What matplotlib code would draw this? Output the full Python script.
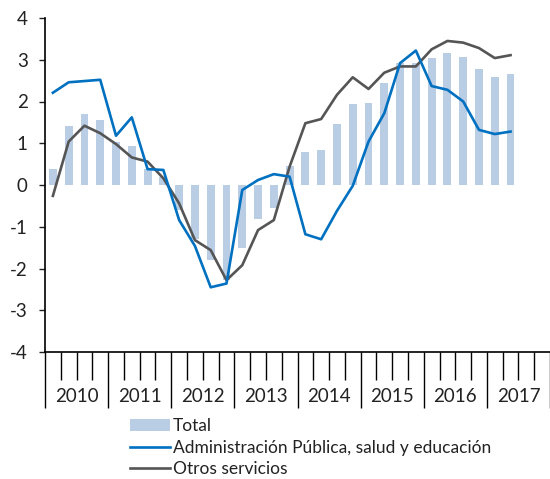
import matplotlib.pyplot as plt
import matplotlib.transforms as mtransforms
import numpy as np

plt.rcParams['font.family'] = ['Lato', 'DejaVu Sans']
plt.rcParams['axes.unicode_minus'] = False

### quarterly data 2010Q1 - 2017Q2
years = ['2010', '2011', '2012', '2013', '2014', '2015', '2016', '2017']
total = [0.38, 1.41, 1.69, 1.56, 1.04, 0.94, 0.38, 0.18,
         -0.6, -1.3, -1.8, -2.28, -1.5, -0.82, -0.56, 0.46,
         0.8, 0.84, 1.46, 1.94, 1.97, 2.45, 2.92, 2.93,
         3.03, 3.17, 3.07, 2.79, 2.59, 2.65]
admin = [2.21, 2.46, 2.49, 2.52, 1.18, 1.62, 0.38, 0.36,
         -0.84, -1.46, -2.45, -2.36, -0.12, 0.12, 0.26, 0.2,
         -1.18, -1.3, -0.62, -0.02, 1.04, 1.72, 2.92, 3.22,
         2.37, 2.28, 2.0, 1.32, 1.22, 1.28]
otros = [-0.26, 1.04, 1.42, 1.24, 0.98, 0.66, 0.56, 0.16,
         -0.44, -1.32, -1.56, -2.28, -1.92, -1.08, -0.84, 0.44,
         1.48, 1.58, 2.16, 2.58, 2.3, 2.69, 2.84, 2.84,
         3.25, 3.45, 3.41, 3.28, 3.04, 3.11]

x = np.arange(len(total))

fig = plt.figure(figsize=(5.5, 4.79), dpi=100)
ax = fig.add_axes([45 / 550, 1 - 352 / 479, 505 / 550, (352 - 18) / 479])

b = ax.bar(x, total, width=0.5, color='#B9CDE5', label='Total', zorder=1)
l1, = ax.plot(x, admin, color='#0070C0', lw=1.9, label='Administración Pública, salud y educación', zorder=3)
l2, = ax.plot(x, otros, color='#555555', lw=1.9, label='Otros servicios', zorder=2)

ax.set_ylim(-4, 4)
ax.set_xlim(-0.5, 31.26)
ax.set_yticks(range(-4, 5))
ax.tick_params(axis='y', direction='out', length=4.5, width=1, pad=8, labelsize=13.5, colors='#222222')

### quarter boundaries (minor) and year boundaries (major)
ax.set_xticks(np.arange(-0.5, 32, 4))
ax.set_xticks(np.arange(-0.5, 32, 1), minor=True)
ax.tick_params(axis='x', which='major', direction='out', length=40, width=1, labelbottom=False)
ax.tick_params(axis='x', which='minor', direction='out', length=20, width=1)

trans = mtransforms.blended_transform_factory(ax.transData, fig.transFigure)
for i, yr in enumerate(years):
    ax.text(i * 4 + 1.5, 1 - 397 / 479, yr, transform=trans, ha='center', va='center',
            fontsize=13.5, color='#222222')

for s in ['top', 'right']:
    ax.spines[s].set_visible(False)
ax.spines['left'].set_linewidth(1.2)
ax.spines['bottom'].set_linewidth(1.2)

fig.legend([b, l1, l2], [b.get_label(), l1.get_label(), l2.get_label()],
           loc='upper left', bbox_to_anchor=(130 / 550, 1 - 418 / 479), frameon=False,
           fontsize=12.5, handlelength=2.3, handletextpad=0.15, labelspacing=0.33,
           borderaxespad=0, borderpad=0, labelcolor='#222222')

fig.savefig('out.png', dpi=100)
